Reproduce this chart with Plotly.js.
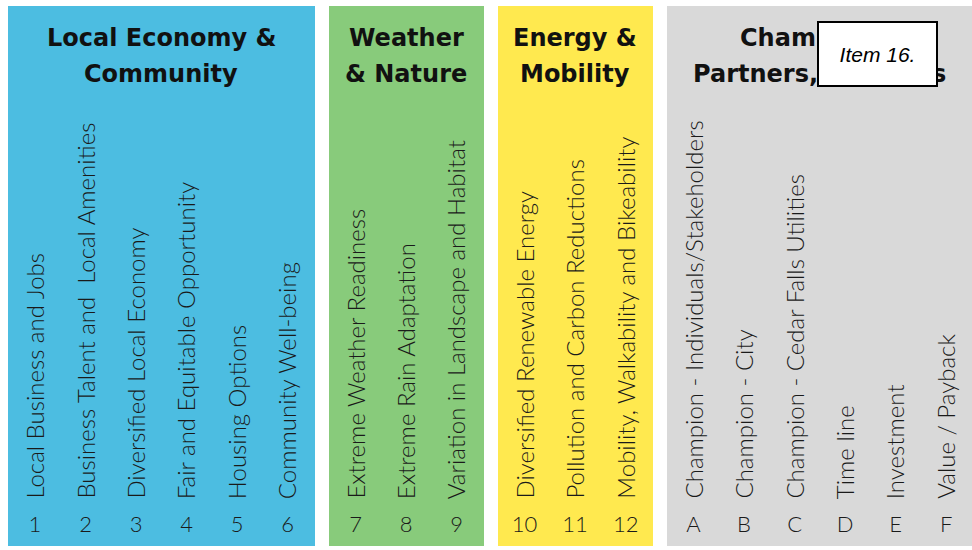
<!DOCTYPE html>
<html>
<head>
<meta charset="utf-8">
<script src="https://cdn.plot.ly/plotly-3.0.1.min.js"></script>
<style>html,body{margin:0;padding:0;background:#fff;}#chart{width:972px;height:550px;}</style>
</head>
<body>
<div id="chart"></div>
<script>
// ---- data ----
const groupTitleLine1 = ["Local Economy &", "Weather", "Energy &", "Champions,"];
const groupTitleLine2 = ["Community", "& Nature", "Mobility", "Partners, Progress"];
const groupSizes = [6, 3, 3, 6];
const columnLabels = [
  "Local Business and Jobs",
  "Business Talent and  Local Amenities",
  "Diversified Local Economy",
  "Fair and Equitable Opportunity",
  "Housing Options",
  "Community Well-being",
  "Extreme Weather Readiness",
  "Extreme Rain Adaptation",
  "Variation in Landscape and Habitat",
  "Diversified Renewable Energy",
  "Pollution and Carbon Reductions",
  "Mobility, Walkability and Bikeability",
  "Champion - Individuals/Stakeholders",
  "Champion - City",
  "Champion - Cedar Falls Utilities",
  "Time line",
  "Investment",
  "Value / Payback"
];
const columnIds = ["1","2","3","4","5","6","7","8","9","10","11","12","A","B","C","D","E","F"];
const stampText = "Item 16.";

// ---- styles / layout constants ----
const groupColors = ["#4CBDE1", "#88CB7B", "#FFE94F", "#D9D9D9"];
const X0 = 35, STEP = 50.55, GAP = 17.3;
const PANEL_PAD_L = 27, PANEL_PAD_R = 27;
const PANEL_TOP = 6, PANEL_BOTTOM = 546;
const LABEL_BASE = 500, ID_Y = 526;
const TITLE_Y1 = 38, TITLE_Y2 = 73;
const labelFont = {family: "Lato, 'Open Sans', sans-serif", size: 24, color: "#1a1a1a", weight: 300};
const titleFont = {family: "'DejaVu Sans', sans-serif", size: 24, color: "#111", weight: 700};

// column -> group index
const colGroup = [];
groupSizes.forEach((n, g) => { for (let k = 0; k < n; k++) colGroup.push(g); });
const colX = columnLabels.map((_, i) => X0 + STEP * i + GAP * colGroup[i]);

// panels derived from column positions
const panelX0 = [], panelX1 = [];
let start = 0;
groupSizes.forEach((n, g) => {
  panelX0.push(colX[start] - PANEL_PAD_L);
  panelX1.push(Math.min(972, colX[start + n - 1] + PANEL_PAD_R));
  start += n;
});
const panelCenter = panelX0.map((x, g) => (x + panelX1[g]) / 2);
const panelWidth = panelX0.map((x, g) => panelX1[g] - x);

const traces = [
  {
    type: "bar",
    x: panelCenter,
    y: panelWidth.map(() => PANEL_BOTTOM - PANEL_TOP),
    base: PANEL_TOP,
    width: panelWidth,
    marker: {color: groupColors, line: {width: 0}},
    hoverinfo: "skip",
    showlegend: false
  },
  {
    type: "scatter",
    mode: "text",
    x: colX,
    y: colX.map(() => ID_Y),
    text: columnIds,
    textposition: "middle center",
    textfont: {family: labelFont.family, size: 22, color: "#1a1a1a", weight: 300},
    hoverinfo: "skip",
    showlegend: false
  }
];

const annotations = [];
columnLabels.forEach((t, i) => {
  annotations.push({
    x: colX[i] - 1, y: LABEL_BASE, xref: "x", yref: "y",
    text: t, showarrow: false, textangle: -90,
    xanchor: "center", yanchor: "bottom",
    font: labelFont, borderpad: 0
  });
});
groupTitleLine1.forEach((t, g) => {
  annotations.push({x: panelCenter[g], y: TITLE_Y1, xref: "x", yref: "y", text: t,
    showarrow: false, xanchor: "center", yanchor: "middle", font: titleFont});
  annotations.push({x: panelCenter[g], y: TITLE_Y2 + 1, xref: "x", yref: "y", text: groupTitleLine2[g],
    showarrow: false, xanchor: "center", yanchor: "middle", font: titleFont});
});
// stamp box
annotations.push({
  x: 877.5, y: 53.5, xref: "x", yref: "y", text: stampText, showarrow: false,
  xanchor: "center", yanchor: "middle", width: 117, height: 62,
  bgcolor: "#ffffff", bordercolor: "#000", borderwidth: 2, borderpad: 0,
  font: {family: "'Liberation Sans', Arial, sans-serif", size: 21, color: "#000", style: "italic"}
});

const layout = {
  width: 972, height: 550,
  margin: {l: 0, r: 0, t: 0, b: 0},
  paper_bgcolor: "#ffffff", plot_bgcolor: "#ffffff",
  xaxis: {range: [0, 972], visible: false, fixedrange: true},
  yaxis: {range: [550, 0], visible: false, fixedrange: true},
  bargap: 0,
  annotations: annotations,
  showlegend: false
};

Plotly.newPlot("chart", traces, layout, {displayModeBar: false, staticPlot: true});
</script>
</body>
</html>
